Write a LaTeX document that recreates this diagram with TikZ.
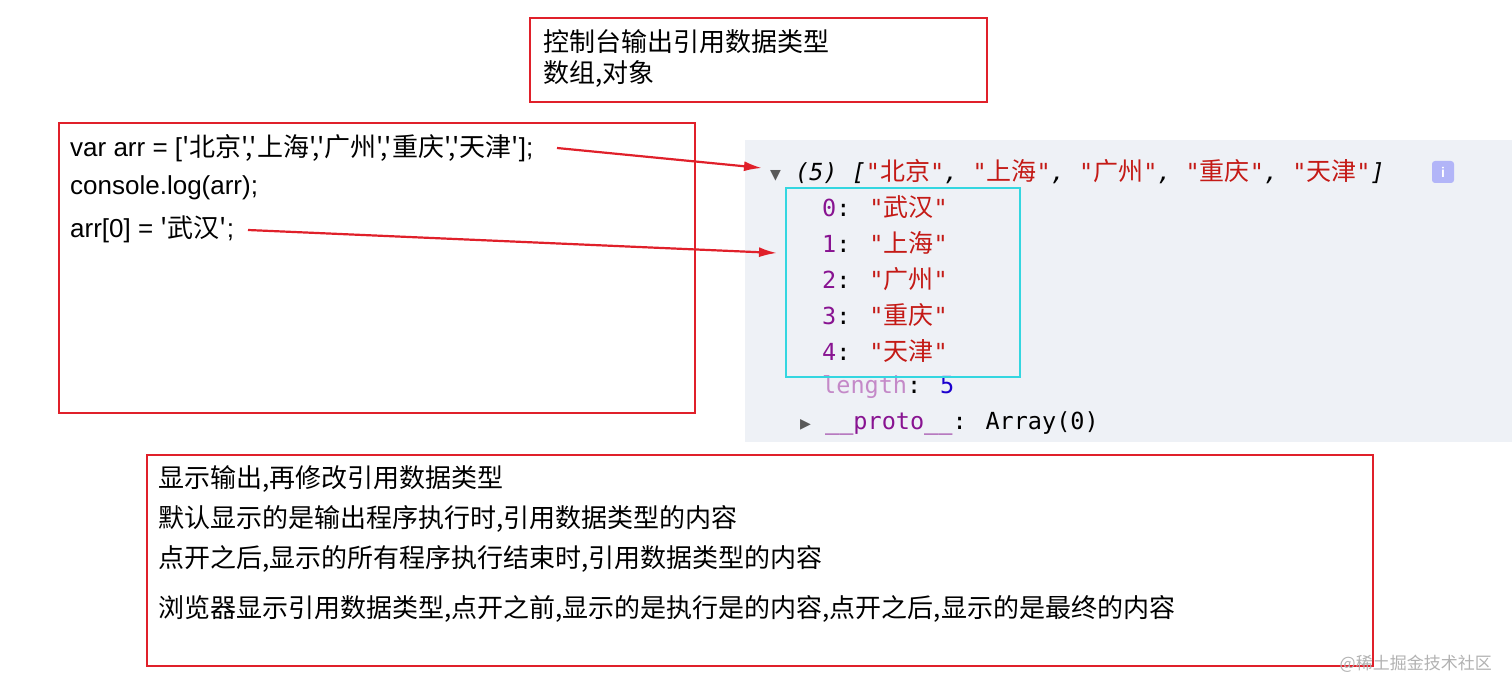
\documentclass[tikz,border=0pt]{standalone}
\usepackage{fontspec}
\usetikzlibrary{arrows.meta}
\setmainfont{Liberation Sans}
\newfontfamily\cjk{Noto Sans CJK SC}
\newfontfamily\monof{DejaVu Sans Mono}
\definecolor{rbox}{HTML}{E0202A}
\definecolor{cpanel}{HTML}{EEF1F6}
\definecolor{cstr}{HTML}{C41A16}
\definecolor{cidx}{HTML}{881391}
\definecolor{cnum}{HTML}{1C00CF}
\definecolor{ccyan}{HTML}{33D6E0}
\newcommand{\cs}[1]{{\color{cstr}"{\cjk\fontsize{25}{26}\selectfont #1}"}}
\begin{document}
\begin{tikzpicture}[x=1pt,y=-1pt,
  redbox/.style={draw=rbox,line width=1.5pt},
  cn/.style={anchor=west,inner sep=0pt,font=\cjk\fontsize{26}{28}\selectfont},
  code/.style={anchor=west,inner sep=0pt,font=\fontsize{26}{28}\selectfont},
  con/.style={anchor=west,inner sep=0pt,font=\monof\fontsize{23.5}{26}\selectfont},
  arr/.style={draw=rbox,line width=2.2pt,-{Latex[length=18pt,width=10pt]}}]
\useasboundingbox (0,0) rectangle (1512,695);
\fill[white] (0,0) rectangle (1512,695);
% top box
\draw[redbox] (530,18) rectangle (987,102);
\node[cn] (t1) at (543,42) {控制台输出引用数据类型};
\node[cn] (t2) at (543,74) {数组,对象};
% code box
\draw[redbox] (59,123) rectangle (695,413);
\node[code] (c1) at (70,148) {var arr = [{\cjk '北京','上海','广州','重庆','天津'}];};
\node[code] (c2) at (70,188) {console.log(arr);};
\node[code] (c3) at (70,229) {arr[0] = {\cjk '武汉'};};
% console
\fill[cpanel] (745,140) rectangle (1512,442);
\node[con] (h) at (770,172) {{\fontsize{18}{18}\selectfont\color{gray!70!black}▼}\itshape\ (5) [\cs{北京}, \cs{上海}, \cs{广州}, \cs{重庆}, \cs{天津}]};
\node[fill=blue!25!cpanel,rounded corners=3pt,minimum width=22pt,minimum height=22pt,inner sep=0pt,text=white,font=\bfseries\fontsize{14}{14}\selectfont] (info) at (1443,172) {i};
\node[con] (i0) at (822,207) {{\color{cidx}0}: \cs{武汉}};
\node[con] (i1) at (822,243) {{\color{cidx}1}: \cs{上海}};
\node[con] (i2) at (822,279) {{\color{cidx}2}: \cs{广州}};
\node[con] (i3) at (822,315) {{\color{cidx}3}: \cs{重庆}};
\node[con] (i4) at (822,351) {{\color{cidx}4}: \cs{天津}};
\node[con] (len) at (822,387) {{\color{cidx!50}length}: {\color{cnum}5}};
\node[con] (pr) at (800,423) {{\fontsize{18}{18}\selectfont\color{gray!70!black}▶} {\color{cidx}\_\_proto\_\_}: Array(0)};
\draw[ccyan,line width=2.5pt] (786,188) rectangle (1020,377);
% bottom box
\draw[redbox] (147,455) rectangle (1373,666);
\node[cn] (b1) at (158,479) {显示输出,再修改引用数据类型};
\node[cn] (b2) at (158,519) {默认显示的是输出程序执行时,引用数据类型的内容};
\node[cn] (b3) at (158,559) {点开之后,显示的所有程序执行结束时,引用数据类型的内容};
\node[cn] (b4) at (158,609) {浏览器显示引用数据类型,点开之前,显示的是执行是的内容,点开之后,显示的是最终的内容};
% watermark
\node[anchor=east,inner sep=0pt,text=gray!60,font=\cjk\fontsize{17}{18}\selectfont] (wm) at (1492,664) {@稀土掘金技术社区};
% arrows
\coordinate (a1s) at (557,148); \coordinate (a1e) at (762,168);
\coordinate (a2s) at (248,230); \coordinate (a2e) at (777,253);
\draw[arr] (a1s) -- (a1e);
\draw[arr] (a2s) -- (a2e);
\end{tikzpicture}
\end{document}
